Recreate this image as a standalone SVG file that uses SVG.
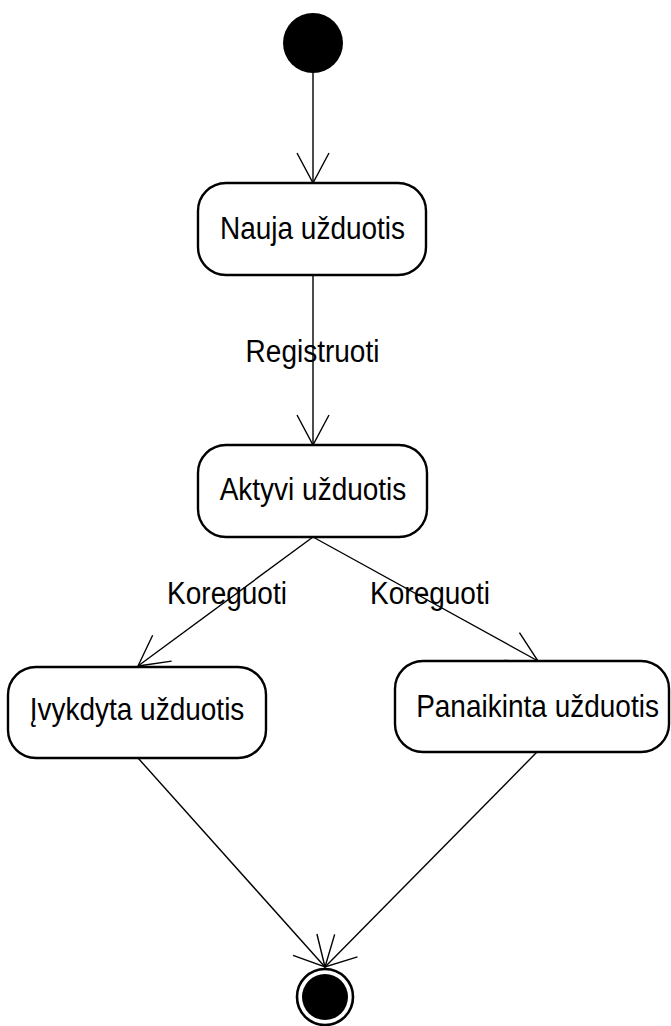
<svg xmlns="http://www.w3.org/2000/svg" width="671" height="1026" viewBox="0 0 671 1026">
  <style>
    .state { fill: #ffffff; stroke: #000000; stroke-width: 2.4; }
    .label { font-family: "Liberation Sans", Arial, sans-serif; font-size: 28px; fill: #000000; text-anchor: middle; }
    .edge { fill: none; stroke: #000000; stroke-width: 1.4; marker-end: url(#open-arrow); }
  </style>
  <defs>
    <marker id="open-arrow" markerUnits="userSpaceOnUse" markerWidth="40" markerHeight="40" viewBox="-35 -20 40 40" refX="0" refY="0" orient="auto">
      <path d="M-30,-16 L0,0 L-30,16" fill="none" stroke="#000000" stroke-width="1.4"/>
    </marker>
  </defs>

  <!-- transitions -->
  <g id="connectors">
    <line class="edge" x1="313" y1="73" x2="313" y2="183"/>
    <line class="edge" x1="313" y1="275" x2="313" y2="445"/>
    <line class="edge" x1="313" y1="537" x2="138" y2="666"/>
    <line class="edge" x1="313" y1="537" x2="538" y2="661"/>
    <line class="edge" x1="138" y1="758" x2="325" y2="967"/>
    <line class="edge" x1="537" y1="752" x2="325" y2="967"/>
    <!-- labels are drawn slightly taller than wide, baseline kept in place -->
    <text class="label" transform="translate(312.5,362) scale(1,1.1)">Registruoti</text>
    <text class="label" transform="translate(227,604) scale(1,1.1)">Koreguoti</text>
    <text class="label" transform="translate(430,604) scale(1,1.1)">Koreguoti</text>
  </g>

  <!-- initial state -->
  <g id="start">
    <circle cx="313" cy="43" r="30" fill="#000000"/>
  </g>

  <g id="nauja">
    <rect class="state" x="198" y="183" width="228" height="92" rx="28" ry="28"/>
    <text class="label" transform="translate(312.5,239) scale(1,1.12)">Nauja užduotis</text>
  </g>

  <g id="aktyvi">
    <rect class="state" x="198" y="445" width="229" height="92" rx="28" ry="28"/>
    <text class="label" transform="translate(313,500) scale(1,1.12)">Aktyvi užduotis</text>
  </g>

  <g id="ivykdyta">
    <rect class="state" x="8" y="667" width="258" height="91" rx="28" ry="28"/>
    <text class="label" transform="translate(137,720) scale(1,1.12)">Įvykdyta užduotis</text>
  </g>

  <g id="panaikinta">
    <rect class="state" x="395" y="661" width="274" height="91" rx="28" ry="28"/>
    <text class="label" transform="translate(537.5,717) scale(1,1.12)">Panaikinta užduotis</text>
  </g>

  <!-- final state -->
  <g id="end">
    <circle cx="325" cy="997" r="28" fill="#ffffff" stroke="#000000" stroke-width="2.6"/>
    <circle cx="325" cy="997" r="23" fill="#000000"/>
  </g>
</svg>
